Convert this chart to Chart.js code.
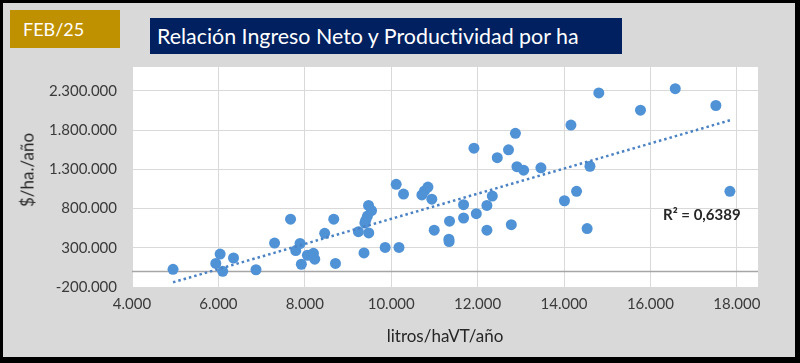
<!DOCTYPE html>
<html>
<head>
<meta charset="utf-8">
<script src="https://cdn.jsdelivr.net/npm/chart.js@4"></script>
<style>
  html, body { margin: 0; padding: 0; background: #000; }
  #wrap { position: relative; width: 800px; height: 363px; overflow: hidden; font-family: Lato, sans-serif; font-variant-ligatures: none; }
  #c { position: absolute; left: 0; top: 0; }
  .box { position: absolute; color: #fff; white-space: nowrap; }
  #tag { left: 10px; top: 10px; width: 110px; height: 38px; background: #bf9000; font-size: 18px; line-height: 38px; padding-left: 13px; box-sizing: border-box; }
  #title { left: 150px; top: 18px; width: 472px; height: 36px; background: #002060; font-size: 21.4px; line-height: 36px; padding-left: 7px; box-sizing: border-box; }
  .lbl { position: absolute; color: #262626; white-space: nowrap; }
  #ytitle { left: 27px; top: 170px; font-size: 17px; transform: translate(-50%, -50%) rotate(-90deg); }
  #xtitle { left: 445px; top: 335px; font-size: 17px; transform: translate(-50%, -50%); }
  #r2 { left: 663px; top: 214px; font-size: 15px; font-weight: bold; transform: translateY(-50%); }
</style>
</head>
<body>
<div id="wrap">
  <canvas id="c" width="800" height="363"></canvas>
  <div class="box" id="tag">FEB/25</div>
  <div class="box" id="title">Relación Ingreso Neto y Productividad por ha</div>
  <div class="lbl" id="ytitle">$/ha./año</div>
  <div class="lbl" id="xtitle">litros/haVT/año</div>
  <div class="lbl" id="r2">R² = 0,6389</div>
</div>
<script>
// litros/haVT/año
var xValues = [4950, 5940, 6040, 6100, 6350, 6870, 7300, 7670, 7790, 7890, 7920, 8060, 8200, 8230,
  8460, 8670, 8710, 9240, 9370, 9390, 9410, 9480, 9450, 9545, 9475, 9860, 10180, 10115, 10285,
  10710, 10770, 10850, 10940, 10995, 11350, 11335, 11340, 11675, 11675, 11915, 11970, 12215,
  12340, 12215, 12455, 12715, 12875, 12780, 12910, 13065, 13465, 14010, 14160, 14290, 14535,
  14600, 14805, 15770, 16575, 17515, 17840];
// $/ha./año
var yValues = [25000, 100000, 220000, 0, 170000, 20000, 360000, 665000, 265000, 355000, 90000,
  205000, 230000, 155000, 485000, 665000, 100000, 505000, 235000, 615000, 650000, 490000, 705000,
  775000, 840000, 305000, 305000, 1110000, 985000, 975000, 1025000, 1075000, 920000, 525000,
  640000, 410000, 380000, 850000, 680000, 1570000, 735000, 840000, 960000, 525000, 1450000,
  1550000, 1760000, 595000, 1335000, 1290000, 1320000, 900000, 1865000, 1020000, 545000,
  1340000, 2275000, 2055000, 2330000, 2115000, 1020000];

// linear trendline ends
var trendX = [4950, 17840];
var trendY = [-140000, 1926000];

var xTicks = [4000, 6000, 8000, 10000, 12000, 14000, 16000, 18000];
var yTicks = [-200000, 300000, 800000, 1300000, 1800000, 2300000];

function fmt(v) {
  var s = String(Math.abs(Math.round(v))).replace(/\B(?=(\d{3})+(?!\d))/g, '.');
  return (v < 0 ? '-' : '') + s;
}

var points = xValues.map(function (x, i) { return { x: x, y: yValues[i] }; });
var trend = trendX.map(function (x, i) { return { x: x, y: trendY[i] }; });

// frame, white plot area and the zero line
var framePlugin = {
  id: 'frame',
  beforeDraw: function (chart) {
    var ctx = chart.ctx, a = chart.chartArea;
    ctx.save();
    ctx.fillStyle = '#000';
    ctx.fillRect(0, 0, chart.width, chart.height);
    ctx.fillStyle = '#d9d9d9';
    ctx.fillRect(3, 3, 792, 354);
    ctx.fillStyle = '#fff';
    ctx.fillRect(a.left, a.top, a.right - a.left, a.bottom - a.top);
    ctx.restore();
  },
  beforeDatasetsDraw: function (chart) {
    var ctx = chart.ctx, a = chart.chartArea;
    var y0 = Math.round(chart.scales.y.getPixelForValue(0)) + 0.5;
    ctx.save();
    ctx.strokeStyle = '#a6a6a6';
    ctx.lineWidth = 1.5;
    ctx.beginPath();
    ctx.moveTo(a.left, y0);
    ctx.lineTo(a.right, y0);
    ctx.stroke();
    ctx.restore();
  }
};

var tickFont = { family: 'Lato', size: 15 };

new Chart(document.getElementById('c').getContext('2d'), {
  type: 'scatter',
  data: {
    datasets: [{
      type: 'line',
      data: trend,
      borderColor: '#4a82c4',
      borderWidth: 2.5,
      borderDash: [2.5, 3],
      pointRadius: 0,
      fill: false
    }, {
      data: points,
      backgroundColor: '#4f92d6',
      borderWidth: 0,
      pointRadius: 5.5
    }]
  },
  options: {
    responsive: false,
    animation: false,
    devicePixelRatio: 1,
    layout: { padding: { top: 67, right: 42, left: 0, bottom: 0 } },
    plugins: { legend: { display: false }, tooltip: { enabled: false } },
    scales: {
      x: {
        type: 'linear',
        min: 4000,
        max: 18490,
        afterBuildTicks: function (s) { s.ticks = xTicks.map(function (v) { return { value: v }; }); },
        afterFit: function (s) { s.height = 76; },
        grid: { color: '#d9d9d9', drawTicks: false },
        border: { display: false },
        ticks: { font: tickFont, color: '#3a3a3a', padding: 8, maxRotation: 0, callback: fmt }
      },
      y: {
        min: -200000,
        max: 2606000,
        afterBuildTicks: function (s) { s.ticks = yTicks.map(function (v) { return { value: v }; }); },
        afterFit: function (s) { s.width = 132; },
        grid: { color: '#d9d9d9', drawTicks: false },
        border: { display: false },
        ticks: { font: tickFont, color: '#3a3a3a', padding: 15, callback: fmt }
      }
    }
  },
  plugins: [framePlugin]
});
</script>
</body>
</html>
